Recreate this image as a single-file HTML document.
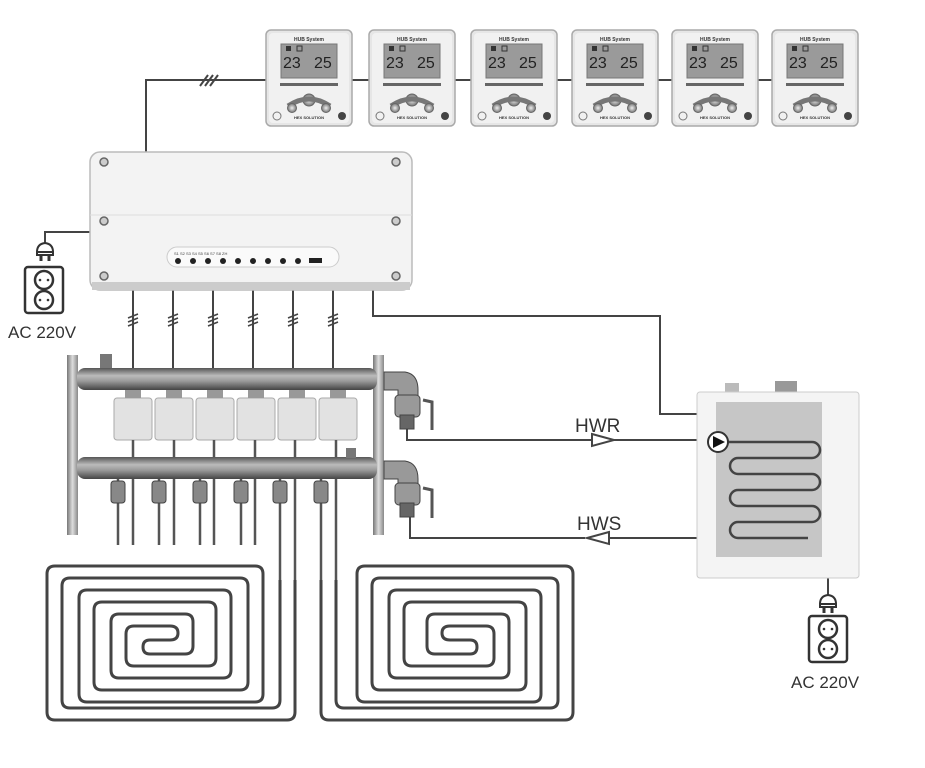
<!DOCTYPE html>
<html><head><meta charset="utf-8"><style>
html,body{margin:0;padding:0;background:#fff;}
svg{display:block;}
text{font-family:"Liberation Sans",sans-serif;}
</style></head><body>
<svg width="925" height="768" viewBox="0 0 925 768" xmlns="http://www.w3.org/2000/svg">
<defs>
<linearGradient id="pipe" x1="0" y1="0" x2="0" y2="1">
<stop offset="0" stop-color="#555"/><stop offset="0.35" stop-color="#bbb"/><stop offset="0.6" stop-color="#999"/><stop offset="1" stop-color="#444"/>
</linearGradient>
<linearGradient id="vbar" x1="0" y1="0" x2="1" y2="0">
<stop offset="0" stop-color="#777"/><stop offset="0.5" stop-color="#ddd"/><stop offset="1" stop-color="#888"/>
</linearGradient>
<radialGradient id="btn"><stop offset="0" stop-color="#eee"/><stop offset="1" stop-color="#777"/></radialGradient>
<g id="th">
<rect x="0" y="0" width="86" height="96" rx="5" fill="#e6e6e6" stroke="#aaa" stroke-width="1.5"/>
<rect x="3" y="3" width="80" height="90" rx="4" fill="#f1f1f1"/>
<text x="43" y="11" font-size="5" text-anchor="middle" fill="#333" font-weight="bold">HUB System</text>
<rect x="15" y="14" width="56" height="34" fill="#9a9a9a" stroke="#777"/>
<text x="17" y="38" font-size="16" fill="#222">23</text>
<text x="48" y="38" font-size="16" fill="#222">25</text>
<rect x="20" y="16" width="5" height="5" fill="#333"/>
<rect x="31" y="16" width="5" height="5" fill="none" stroke="#333"/>
<rect x="14" y="53" width="58" height="3" fill="#666"/>
<circle cx="43" cy="70" r="6" fill="url(#btn)" stroke="#666"/>
<path d="M22 76 Q43 62 64 76" stroke="#777" stroke-width="5" fill="none"/>
<circle cx="26" cy="78" r="4.5" fill="url(#btn)" stroke="#666"/>
<circle cx="60" cy="78" r="4.5" fill="url(#btn)" stroke="#666"/>
<circle cx="11" cy="86" r="4" fill="none" stroke="#777"/>
<circle cx="76" cy="86" r="4" fill="#444"/>
<text x="43" y="89" font-size="4" text-anchor="middle" fill="#333" font-weight="bold">HEX SOLUTION</text>
</g>
<g id="sock">
<rect x="0" y="0" width="38" height="46" rx="3" fill="#fff" stroke="#333" stroke-width="2.5"/>
<circle cx="19" cy="13" r="9" fill="#fff" stroke="#333" stroke-width="2.5"/>
<circle cx="19" cy="33" r="9" fill="#fff" stroke="#333" stroke-width="2.5"/>
<circle cx="15" cy="13" r="1.3" fill="#333"/><circle cx="23" cy="13" r="1.3" fill="#333"/>
<circle cx="15" cy="33" r="1.3" fill="#333"/><circle cx="23" cy="33" r="1.3" fill="#333"/>
</g>
<g id="plug">
<path d="M-8 0 Q-8 -8 0 -9 Q8 -8 8 0 Z" fill="#fff" stroke="#333" stroke-width="2"/>
<rect x="-8" y="0" width="16" height="3" fill="#fff" stroke="#333" stroke-width="2"/>
<line x1="-4" y1="3" x2="-4" y2="9" stroke="#333" stroke-width="3"/>
<line x1="4" y1="3" x2="4" y2="9" stroke="#333" stroke-width="3"/>
</g>
</defs>

<g stroke="#444" stroke-width="2" fill="none">
<polyline points="146,152 146,80 800,80"/>
<line x1="200" y1="86" x2="208" y2="75"/><line x1="205" y1="86" x2="213" y2="75"/><line x1="210" y1="86" x2="218" y2="75"/>
<polyline points="90,232 45,232 45,243"/>
<line x1="133" y1="288" x2="133" y2="372"/><line x1="173" y1="288" x2="173" y2="372"/>
<line x1="213" y1="288" x2="213" y2="372"/><line x1="253" y1="288" x2="253" y2="372"/>
<line x1="293" y1="288" x2="293" y2="372"/><line x1="333" y1="288" x2="333" y2="372"/>
<polyline points="373,288 373,316 660,316 660,414 700,414"/>
<line x1="828" y1="575" x2="828" y2="598"/>
</g>
<g stroke="#444" stroke-width="1.6">
<g id="hsh"><line x1="128" y1="318" x2="138" y2="314"/><line x1="128" y1="322" x2="138" y2="318"/><line x1="128" y1="326" x2="138" y2="322"/></g>
<use href="#hsh" x="40"/><use href="#hsh" x="80"/><use href="#hsh" x="120"/><use href="#hsh" x="160"/><use href="#hsh" x="200"/>
</g>

<use href="#th" x="266" y="30"/><use href="#th" x="369" y="30"/><use href="#th" x="471" y="30"/>
<use href="#th" x="572" y="30"/><use href="#th" x="672" y="30"/><use href="#th" x="772" y="30"/>

<rect x="90" y="152" width="322" height="138" rx="10" fill="#f3f3f3" stroke="#bbb" stroke-width="1.5"/>
<rect x="92" y="282" width="318" height="8" fill="#ccc"/>
<line x1="90" y1="215" x2="412" y2="215" stroke="#ddd"/>
<g fill="#ccc" stroke="#666" stroke-width="1.5">
<circle cx="104" cy="162" r="4"/><circle cx="396" cy="162" r="4"/><circle cx="104" cy="221" r="4"/><circle cx="396" cy="221" r="4"/><circle cx="104" cy="276" r="4"/><circle cx="396" cy="276" r="4"/>
</g>
<rect x="167" y="247" width="172" height="20" rx="10" fill="#fafafa" stroke="#ccc"/>
<g fill="#222">
<circle cx="178" cy="261" r="3"/><circle cx="193" cy="261" r="3"/><circle cx="208" cy="261" r="3"/><circle cx="223" cy="261" r="3"/><circle cx="238" cy="261" r="3"/><circle cx="253" cy="261" r="3"/><circle cx="268" cy="261" r="3"/><circle cx="283" cy="261" r="3"/><circle cx="298" cy="261" r="3"/>
<rect x="309" y="258" width="13" height="5"/>
</g>
<g fill="#444" font-size="4"><text x="174" y="255">S1 S2 S3 S4 S5 S6 S7 S8 ZH</text></g>

<use href="#plug" x="45" y="252"/>
<use href="#sock" x="25" y="267"/>
<text x="8" y="338" font-size="17" fill="#333">AC 220V</text>

<rect x="67" y="355" width="11" height="180" fill="url(#vbar)"/>
<rect x="373" y="355" width="11" height="180" fill="url(#vbar)"/>
<rect x="77" y="368" width="300" height="22" rx="8" fill="url(#pipe)"/>
<rect x="77" y="457" width="300" height="22" rx="8" fill="url(#pipe)"/>
<rect x="100" y="354" width="12" height="14" fill="#777"/>
<rect x="346" y="448" width="10" height="10" fill="#777"/>
<g fill="#e2e2e2" stroke="#aaa">
<rect x="114" y="398" width="38" height="42" rx="3"/><rect x="155" y="398" width="38" height="42" rx="3"/><rect x="196" y="398" width="38" height="42" rx="3"/><rect x="237" y="398" width="38" height="42" rx="3"/><rect x="278" y="398" width="38" height="42" rx="3"/><rect x="319" y="398" width="38" height="42" rx="3"/>
</g>
<g fill="#999">
<rect x="125" y="390" width="16" height="8"/><rect x="166" y="390" width="16" height="8"/><rect x="207" y="390" width="16" height="8"/><rect x="248" y="390" width="16" height="8"/><rect x="289" y="390" width="16" height="8"/><rect x="330" y="390" width="16" height="8"/>
</g>
<g stroke="#555" stroke-width="2.5" fill="none">
<line x1="133" y1="440" x2="133" y2="457"/><line x1="174" y1="440" x2="174" y2="457"/><line x1="214" y1="440" x2="214" y2="457"/><line x1="255" y1="440" x2="255" y2="457"/><line x1="295" y1="440" x2="295" y2="457"/><line x1="336" y1="440" x2="336" y2="457"/>
<line x1="118" y1="479" x2="118" y2="545"/><line x1="133" y1="479" x2="133" y2="545"/>
<line x1="159" y1="479" x2="159" y2="545"/><line x1="174" y1="479" x2="174" y2="545"/>
<line x1="200" y1="479" x2="200" y2="545"/><line x1="214" y1="479" x2="214" y2="545"/>
<line x1="241" y1="479" x2="241" y2="545"/><line x1="255" y1="479" x2="255" y2="545"/>
<line x1="280" y1="479" x2="280" y2="580"/><line x1="295" y1="479" x2="295" y2="580"/>
<line x1="321" y1="479" x2="321" y2="580"/><line x1="336" y1="479" x2="336" y2="580"/>
</g>
<g fill="#888" stroke="#444">
<rect x="111" y="481" width="14" height="22" rx="3"/><rect x="152" y="481" width="14" height="22" rx="3"/><rect x="193" y="481" width="14" height="22" rx="3"/><rect x="234" y="481" width="14" height="22" rx="3"/><rect x="273" y="481" width="14" height="22" rx="3"/><rect x="314" y="481" width="14" height="22" rx="3"/>
</g>
<g fill="#999" stroke="#444">
<path d="M384 372 L405 372 Q418 374 418 390 L418 400 L398 400 L398 390 L384 390 Z"/>
<rect x="395" y="395" width="25" height="22" rx="4"/>
<rect x="400" y="415" width="14" height="14" fill="#666"/>
<path d="M384 461 L405 461 Q418 463 418 479 L418 485 L398 485 L398 479 L384 479 Z"/>
<rect x="395" y="483" width="25" height="22" rx="4"/>
<rect x="400" y="503" width="14" height="14" fill="#666"/>
</g>
<g stroke="#555" stroke-width="3" fill="none">
<polyline points="423,400 432,402 432,430"/><polyline points="423,488 432,490 432,518"/>
</g>

<g stroke="#444" stroke-width="2" fill="none">
<polyline points="407,429 407,440 592,440"/><line x1="614" y1="440" x2="710" y2="440"/>
<polyline points="410,517 410,538 585,538"/><line x1="609" y1="538" x2="808" y2="538"/>
<polygon points="592,434 614,440 592,446" fill="#fff"/>
<polygon points="609,532 587,538 609,544" fill="#fff"/>
</g>
<text x="575" y="432" font-size="19" fill="#333">HWR</text>
<text x="577" y="530" font-size="19" fill="#333">HWS</text>

<rect x="725" y="383" width="14" height="10" fill="#bbb"/><rect x="775" y="381" width="22" height="12" fill="#999"/>
<rect x="697" y="392" width="162" height="186" rx="3" fill="#f4f4f4" stroke="#ccc"/>
<rect x="716" y="402" width="106" height="155" fill="#c6c6c6"/>
<path d="M720 442 L812 442 A8 8 0 0 1 812 458 L738 458 A8 8 0 0 0 738 474 L812 474 A8 8 0 0 1 812 490 L738 490 A8 8 0 0 0 738 506 L812 506 A8 8 0 0 1 812 522 L738 522 A8 8 0 0 0 738 538 L808 538" stroke="#444" stroke-width="2.5" fill="none"/>
<circle cx="718" cy="442" r="10" fill="#fff" stroke="#333" stroke-width="2"/>
<polygon points="713,436 725,442 713,448" fill="#111"/>

<use href="#plug" x="828" y="604"/>
<use href="#sock" x="809" y="616"/>
<text x="791" y="688" font-size="17" fill="#333">AC 220V</text>

<g stroke="#444" stroke-width="3" fill="none">
<path d="M295 580 L295 712 Q295 720 287 720 L55 720 Q47 720 47 712 L47 574 Q47 566 55 566 L255 566 Q263 566 263 574 L263 694 Q263 702 255 702 L87 702 Q79 702 79 694 L79 598 Q79 590 87 590 L223 590 Q231 590 231 598 L231 670 Q231 678 223 678 L119 678 Q111 678 111 670 L111 622 Q111 614 119 614 L185 614 Q193 614 193 622 L193 646 Q193 654 185 654 L150 654 Q143 654 143 647 Q143 640 150 640 L164 640"/>
<path d="M280 580 L280 700 Q280 708 272 708 L70 708 Q62 708 62 700 L62 586 Q62 578 70 578 L240 578 Q248 578 248 586 L248 682 Q248 690 240 690 L102 690 Q94 690 94 682 L94 610 Q94 602 102 602 L208 602 Q216 602 216 610 L216 658 Q216 666 208 666 L134 666 Q126 666 126 658 L126 634 Q126 626 134 626 L170 626 Q178 626 178 633 Q178 640 170 640 L164 640"/>
<path d="M321 580 L321 712 Q321 720 329 720 L565 720 Q573 720 573 712 L573 574 Q573 566 565 566 L365 566 Q357 566 357 574 L357 694 Q357 702 365 702 L533 702 Q541 702 541 694 L541 598 Q541 590 533 590 L397 590 Q389 590 389 598 L389 670 Q389 678 397 678 L501 678 Q509 678 509 670 L509 622 Q509 614 501 614 L435 614 Q427 614 427 622 L427 646 Q427 654 435 654 L470 654 Q477 654 477 647 Q477 640 470 640 L456 640"/>
<path d="M336 580 L336 700 Q336 708 344 708 L550 708 Q558 708 558 700 L558 586 Q558 578 550 578 L380 578 Q372 578 372 586 L372 682 Q372 690 380 690 L518 690 Q526 690 526 682 L526 610 Q526 602 518 602 L412 602 Q404 602 404 610 L404 658 Q404 666 412 666 L486 666 Q494 666 494 658 L494 634 Q494 626 486 626 L450 626 Q442 626 442 633 Q442 640 450 640 L456 640"/>
</g>
</svg>
</body></html>
